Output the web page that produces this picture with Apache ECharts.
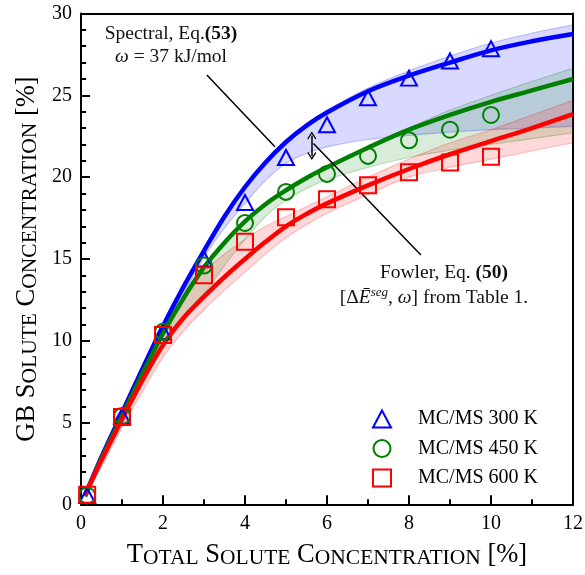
<!DOCTYPE html>
<html>
<head>
<meta charset="utf-8">
<script src="https://cdn.jsdelivr.net/npm/echarts@6/dist/echarts.min.js"></script>
<style>
  html, body { margin: 0; padding: 0; background: #fff; }
  #chart { width: 585px; height: 575px; }
</style>
</head>
<body>
<div id="chart"></div>
<script>
// ---- MC/MS simulation points (total vs. GB solute concentration, %) ----
const simX    = [0.15, 1, 2, 3, 4, 5, 6, 7, 8, 9, 10];
const mcms300 = [0.55, 5.4, 10.55, 15.0, 18.45, 21.2, 23.2, 24.85, 26.05, 27.1, 27.85];
const mcms450 = [0.55, 5.4, 10.55, 14.6, 17.2, 19.1, 20.2, 21.3, 22.25, 22.9, 23.8];
const mcms600 = [0.6, 5.35, 10.35, 14.0, 16.05, 17.55, 18.65, 19.5, 20.3, 20.9, 21.25];

// ---- model curves, sampled on a common total-concentration grid ----
const modelX = [0.1, 0.5, 1, 1.5, 2, 2.5, 3, 3.5, 4, 4.5, 5, 5.5, 6, 7, 8, 9, 10, 11, 12];
// spectral model, Eq. (53)
const spectral300 = [0.55, 2.9, 5.6, 8.3, 10.9, 13.3, 15.5, 17.6, 19.4, 20.9, 22.15, 23.15, 23.95, 25.25, 26.2, 27.0, 27.75, 28.3, 28.75];
const spectral450 = [0.5, 2.8, 5.4, 8.0, 10.45, 12.6, 14.5, 16.0, 17.3, 18.35, 19.2, 19.95, 20.6, 21.8, 22.9, 23.8, 24.6, 25.3, 26.0];
const spectral600 = [0.6, 2.7, 5.2, 7.6, 9.75, 11.4, 12.7, 13.9, 15.0, 16.05, 17.0, 17.75, 18.4, 19.5, 20.5, 21.4, 22.2, 23.0, 23.85];
// Fowler model, Eq. (50): upper / lower bounds of the parameter range
const fowler300Hi = [0.55, 2.9, 5.6, 8.35, 10.95, 13.35, 15.55, 17.65, 19.45, 20.95, 22.2, 23.25, 24.1, 25.45, 26.5, 27.4, 28.2, 28.8, 29.3];
const fowler300Lo = [0.5, 2.8, 5.3, 7.9, 10.3, 12.8, 15.1, 16.9, 18.4, 19.8, 20.85, 21.45, 21.85, 22.3, 22.55, 22.75, 22.9, 23.0, 23.1];
const fowler450Hi = [0.5, 2.8, 5.4, 8.0, 10.45, 12.6, 14.5, 16.0, 17.3, 18.35, 19.2, 19.95, 20.6, 21.8, 23.0, 24.1, 25.0, 25.85, 26.65];
const fowler450Lo = [0.5, 2.6, 5.1, 7.5, 9.7, 11.5, 12.9, 14.6, 16.2, 17.6, 18.6, 19.3, 19.85, 20.6, 21.2, 21.65, 22.0, 22.35, 22.7];
const fowler600Hi = [0.6, 3.0, 5.5, 8.0, 10.4, 12.5, 14.2, 15.3, 16.2, 17.0, 17.6, 18.2, 18.8, 20.0, 21.1, 22.1, 22.9, 23.8, 24.7];
const fowler600Lo = [0.55, 2.3, 4.7, 6.9, 9.0, 10.6, 11.9, 13.1, 14.2, 15.3, 16.3, 17.1, 17.8, 18.95, 20.0, 20.6, 21.1, 21.6, 22.1];

// ---- axis ticks ----
const xTicks = { min: 0, max: 12, step: 2 };
const yTicks = { min: 0, max: 30, step: 5 };
const xMinorTicks = [1, 3, 5, 7, 9, 11];
const yMinorTicks = [1, 2, 3, 4, 6, 7, 8, 9, 11, 12, 13, 14, 16, 17, 18, 19, 21, 22, 23, 24, 26, 27, 28, 29];
const xMajorTicks = [2, 4, 6, 8, 10];
const yMajorTicks = [5, 10, 15, 20, 25];

// ---- annotation anchors (data coordinates) ----
const spectralPointer = [[3.07, 26.24], [4.73, 21.86]];
const fowlerPointer   = [[5.67, 22.06], [8.29, 15.24]];
const gapArrow        = [[5.63, 21.3], [5.63, 22.55]];

const SERIF = "'Liberation Serif', 'Times New Roman', serif";
const BLUE = '#0000ff', GREEN = '#008000', RED = '#ff0000';

const pairs = (xs, ys) => xs.map((x, i) => [x, ys[i]]);

function bandSeries(upper, lower, fill, edge) {
  return {
    type: 'custom',
    silent: true,
    z: 1,
    clip: true,
    data: [[0, 0]],
    renderItem: function (params, api) {
      const top = modelX.map((x, i) => api.coord([x, upper[i]]));
      const bot = modelX.map((x, i) => api.coord([x, lower[i]]));
      const n = top.length - 1;
      // repeated corner points keep the smoothed outline sharp at the ends
      const ring = [top[0]].concat(top, [top[n], bot[n]], bot.slice().reverse(), [bot[0]]);
      return {
        type: 'group',
        children: [
          { type: 'polygon', shape: { points: ring, smooth: 0.35 }, style: { fill: fill, stroke: null } },
          { type: 'polyline', shape: { points: top, smooth: 0.35 }, style: { fill: null, stroke: edge, lineWidth: 1.2 } },
          { type: 'polyline', shape: { points: bot, smooth: 0.35 }, style: { fill: null, stroke: edge, lineWidth: 1.2 } }
        ]
      };
    }
  };
}

function modelLine(ys, color, z) {
  return {
    type: 'line',
    data: pairs(modelX, ys),
    showSymbol: false,
    smooth: 0.35,
    z: z,
    silent: true,
    lineStyle: { color: color, width: 4.5 },
    emphasis: { disabled: true }
  };
}

function simSeries(name, ys, color, symbol, size, extra) {
  return Object.assign({
    name: name,
    type: 'scatter',
    data: pairs(simX, ys),
    symbol: symbol,
    symbolSize: size,
    z: 10,
    silent: true,
    itemStyle: { color: 'rgba(0,0,0,0)', borderColor: color, borderWidth: 2, opacity: 1 },
    emphasis: { disabled: true }
  }, extra || {});
}

// short inward tick segments along the bottom and left edges (lengths in data units)
const MAJOR_X = 0.55, MINOR_X = 0.31;   // vertical ticks on the x axis (y units)
const MAJOR_Y = 0.22, MINOR_Y = 0.125;  // horizontal ticks on the y axis (x units)
function tickLines() {
  const segs = [];
  xMajorTicks.forEach(v => segs.push([{ coord: [v, yTicks.min] }, { coord: [v, yTicks.min + MAJOR_X] }]));
  xMinorTicks.forEach(v => segs.push([{ coord: [v, yTicks.min] }, { coord: [v, yTicks.min + MINOR_X] }]));
  yMajorTicks.forEach(v => segs.push([{ coord: [xTicks.min, v] }, { coord: [xTicks.min + MAJOR_Y, v] }]));
  yMinorTicks.forEach(v => segs.push([{ coord: [xTicks.min, v] }, { coord: [xTicks.min + MINOR_Y, v] }]));
  return {
    type: 'line',
    data: [],
    silent: true,
    z: 30,
    markLine: {
      silent: true, animation: false, symbol: 'none', precision: 4,
      label: { show: false }, emphasis: { disabled: true },
      lineStyle: { color: '#000', width: 2, type: 'solid', opacity: 1 },
      data: segs
    }
  };
}

const chevron = 'path://M0,0 L5,7 L4,8 L0,2.4 L-4,8 L-5,7 Z';

const chart = echarts.init(document.getElementById('chart'), null, { renderer: 'canvas' });

const lineBlack = { show: true, onZero: false, lineStyle: { color: '#000', width: 2 } };
const labelStyle = { color: '#000', fontFamily: SERIF, fontSize: 20, margin: 9 };
const tickStyle = { color: '#000', width: 2 };

// plain frame axes for the top and right edges of the box
const frameAxis = (pos, t) => ({
  type: 'value', position: pos, min: t.min, max: t.max, interval: t.step,
  axisLine: lineBlack, axisTick: { show: false }, minorTick: { show: false },
  axisLabel: { show: false }, splitLine: { show: false }
});

const richTitle = {
  c: { fontFamily: SERIF, fontSize: 26.5, lineHeight: 28, verticalAlign: 'bottom', fill: '#000' },
  s: { fontFamily: SERIF, fontSize: 21.5, lineHeight: 28, verticalAlign: 'bottom', fill: '#000' }
};
const richNote = {
  r: { fontFamily: SERIF, fontSize: 19.5, fill: '#111', verticalAlign: 'bottom', lineHeight: 22 },
  b: { fontFamily: SERIF, fontSize: 19.5, fontWeight: 'bold', fill: '#111', verticalAlign: 'bottom', lineHeight: 22 },
  i: { fontFamily: SERIF, fontSize: 19.5, fontStyle: 'italic', fill: '#111', verticalAlign: 'bottom', lineHeight: 22 },
  sup: { fontFamily: SERIF, fontSize: 13, fontStyle: 'italic', fill: '#111', verticalAlign: 'top', lineHeight: 22 }
};

chart.setOption({
  animation: false,
  backgroundColor: '#fff',
  grid: { left: 81, right: 12, top: 13.5, bottom: 70.5, outerBoundsMode: 'none' },
  xAxis: [
    {
      type: 'value', position: 'bottom', min: xTicks.min, max: xTicks.max, interval: xTicks.step,
      axisLine: lineBlack,
      axisTick: { show: true, inside: true, length: 9, lineStyle: tickStyle },
      minorTick: { show: true, splitNumber: 2, length: 5, lineStyle: tickStyle },
      axisLabel: labelStyle,
      splitLine: { show: false }
    },
    frameAxis('top', xTicks)
  ],
  yAxis: [
    {
      type: 'value', position: 'left', min: yTicks.min, max: yTicks.max, interval: yTicks.step,
      axisLine: lineBlack,
      axisTick: { show: true, inside: true, length: 9, lineStyle: tickStyle },
      minorTick: { show: true, splitNumber: 5, length: 5, lineStyle: tickStyle },
      axisLabel: labelStyle,
      splitLine: { show: false }
    },
    frameAxis('right', yTicks)
  ],
  legend: {
    orient: 'vertical',
    left: 372, top: 409,
    padding: 0,
    itemWidth: 18, itemHeight: 17, itemGap: 9.5,
    textStyle: { color: '#000', fontFamily: SERIF, fontSize: 20, lineHeight: 20, padding: [0, 0, 0, 22] },
    selectedMode: false,
    data: [
      { name: 'MC/MS 300 K', icon: 'triangle', itemStyle: { color: 'rgba(0,0,0,0)', borderColor: BLUE, borderWidth: 2 } },
      { name: 'MC/MS 450 K', icon: 'circle',   itemStyle: { color: 'rgba(0,0,0,0)', borderColor: GREEN, borderWidth: 2 } },
      { name: 'MC/MS 600 K', icon: 'rect',     itemStyle: { color: 'rgba(0,0,0,0)', borderColor: RED, borderWidth: 2 } }
    ]
  },
  series: [
    bandSeries(fowler300Hi, fowler300Lo, 'rgba(0,0,255,0.15)', 'rgba(0,0,255,0.22)'),
    bandSeries(fowler450Hi, fowler450Lo, 'rgba(0,128,0,0.15)', 'rgba(0,128,0,0.22)'),
    bandSeries(fowler600Hi, fowler600Lo, 'rgba(255,0,0,0.15)', 'rgba(255,0,0,0.22)'),
    modelLine(spectral300, BLUE, 3),
    modelLine(spectral450, GREEN, 4),
    modelLine(spectral600, RED, 5),
    simSeries('MC/MS 300 K', mcms300, BLUE, 'triangle', [16, 15], {
      markLine: {
        silent: true,
        animation: false,
        symbol: 'none',
        label: { show: false },
        emphasis: { disabled: true },
        lineStyle: { color: '#000', width: 1.5, type: 'solid' },
        data: [
          [{ coord: spectralPointer[0] }, { coord: spectralPointer[1] }],
          [{ coord: fowlerPointer[0] }, { coord: fowlerPointer[1] }],
          [{ coord: gapArrow[0], symbol: chevron, symbolSize: [9, 8] },
           { coord: gapArrow[1], symbol: chevron, symbolSize: [9, 8] }]
        ]
      }
    }),
    simSeries('MC/MS 450 K', mcms450, GREEN, 'circle', 16),
    simSeries('MC/MS 600 K', mcms600, RED, 'rect', 16),
    tickLines()
  ],
  graphic: [
    { type: 'text', x: 327, y: 555, silent: true, z: 50,
      style: { text: '{c|T}{s|OTAL}{c| S}{s|OLUTE}{c| C}{s|ONCENTRATION}{c| [%]}', align: 'center', verticalAlign: 'middle', rich: richTitle } },
    { type: 'text', x: 27, y: 259, rotation: Math.PI / 2, silent: true, z: 50,
      style: { text: '{c|GB S}{s|OLUTE}{c| C}{s|ONCENTRATION}{c| [%]}', align: 'center', verticalAlign: 'middle', rich: richTitle } },
    { type: 'text', x: 171, y: 33, silent: true, z: 50,
      style: { text: '{r|Spectral, Eq.}{b|(53)}', align: 'center', verticalAlign: 'middle', rich: richNote } },
    { type: 'text', x: 171, y: 56, silent: true, z: 50,
      style: { text: '{i|ω}{r| = 37 kJ/mol}', align: 'center', verticalAlign: 'middle', rich: richNote } },
    { type: 'text', x: 444, y: 272, silent: true, z: 50,
      style: { text: '{r|Fowler, Eq. }{b|(50)}', align: 'center', verticalAlign: 'middle', rich: richNote } },
    { type: 'text', x: 434, y: 297, silent: true, z: 50,
      style: { text: '{r|[Δ}{i|Ē}{sup|seg}{r|, }{i|ω}{r|] from Table 1.}', align: 'center', verticalAlign: 'middle', rich: richNote } }
  ]
});
</script>
</body>
</html>
